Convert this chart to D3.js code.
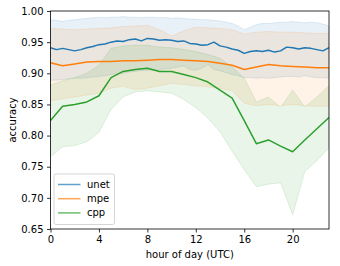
<!DOCTYPE html>
<html>
<head>
<meta charset="utf-8">
<script src="https://cdn.jsdelivr.net/npm/d3@7"></script>
<style>
  body { margin: 0; background: #fff; }
  svg { display: block; font-family: "DejaVu Sans", sans-serif; }
</style>
</head>
<body>
<svg id="chart" width="340" height="266"></svg>
<script>
// hourly models
var hours = [0,1,2,3,4,5,6,7,8,9,10,11,12,13,14,15,16,17,18,19,20,21,22,23];
// unet is sampled every half hour
var unetHours = [0,0.5,1,1.5,2,2.5,3,3.5,4,4.5,5,5.5,6,6.5,7,7.5,8,8.5,9,9.5,10,10.5,11,11.5,
                 12,12.5,13,13.5,14,14.5,15,15.5,16,16.5,17,17.5,18,18.5,19,19.5,20,20.5,21,21.5,22,22.5,23];

var unetMean = [0.941,0.938,0.940,0.938,0.936,0.938,0.941,0.943,0.946,0.947,0.950,0.952,0.951,0.954,0.955,0.952,
                0.956,0.955,0.953,0.954,0.953,0.951,0.952,0.948,0.947,0.945,0.946,0.950,0.944,0.942,0.939,0.937,
                0.932,0.935,0.936,0.935,0.937,0.934,0.936,0.942,0.941,0.939,0.941,0.940,0.938,0.936,0.941];
var unetHi = [0.986,0.985,0.983,0.985,0.986,0.987,0.988,0.989,0.990,0.989,0.990,0.990,0.991,0.990,0.990,0.989,
              0.990,0.990,0.989,0.990,0.988,0.989,0.988,0.987,0.987,0.986,0.986,0.985,0.984,0.982,0.980,0.976,
              0.970,0.974,0.978,0.980,0.980,0.981,0.982,0.982,0.983,0.982,0.981,0.982,0.981,0.979,0.976];
var unetLo = [0.889,0.889,0.890,0.891,0.892,0.892,0.893,0.894,0.895,0.896,0.898,0.899,0.900,0.902,0.903,0.904,
              0.905,0.905,0.906,0.907,0.908,0.910,0.912,0.906,0.905,0.908,0.914,0.906,0.904,0.901,0.898,0.896,
              0.893,0.893,0.892,0.893,0.892,0.893,0.894,0.895,0.895,0.894,0.896,0.894,0.893,0.893,0.892];

var mpeMean = [0.917,0.912,0.915,0.918,0.919,0.919,0.920,0.920,0.921,0.922,0.922,0.921,
               0.920,0.919,0.916,0.913,0.906,0.910,0.914,0.912,0.911,0.910,0.909,0.909];
var mpeHi = [0.972,0.971,0.970,0.971,0.972,0.973,0.975,0.976,0.977,0.970,0.960,0.968,
             0.974,0.973,0.972,0.970,0.963,0.966,0.967,0.966,0.966,0.965,0.964,0.964];
var mpeLo = [0.856,0.859,0.862,0.865,0.868,0.876,0.879,0.874,0.876,0.880,0.884,0.882,
             0.880,0.878,0.876,0.872,0.852,0.848,0.850,0.848,0.850,0.848,0.847,0.847];

var cppMean = [0.824,0.847,0.850,0.854,0.864,0.893,0.903,0.906,0.908,0.903,0.903,0.898,
               0.893,0.886,0.873,0.860,0.824,0.787,0.793,0.783,0.774,0.793,0.811,0.829];
var cppHi = [0.881,0.888,0.893,0.900,0.913,0.940,0.944,0.945,0.945,0.942,0.941,0.938,
             0.935,0.930,0.924,0.910,0.892,0.854,0.862,0.845,0.873,0.846,0.862,0.880];
var cppLo = [0.766,0.782,0.784,0.790,0.805,0.842,0.862,0.870,0.872,0.870,0.868,0.858,
             0.845,0.828,0.806,0.775,0.745,0.718,0.722,0.724,0.673,0.742,0.760,0.780];

var xTicks = [0,4,8,12,16,20];
var yTicks = [0.65,0.70,0.75,0.80,0.85,0.90,0.95,1.00];

var series = [
  {name: "unet", color: "#1f77b4", x: unetHours, mean: unetMean, hi: unetHi, lo: unetLo},
  {name: "mpe",  color: "#ff7f0e", x: hours, mean: mpeMean, hi: mpeHi, lo: mpeLo},
  {name: "cpp",  color: "#2ca02c", x: hours, mean: cppMean, hi: cppHi, lo: cppLo}
];

var svg = d3.select("#chart"),
    margin = {top: 11, right: 11, bottom: 37, left: 50.5},
    width = 340 - margin.left - margin.right,
    height = 266 - margin.top - margin.bottom,
    g = svg.append("g").attr("transform", "translate(" + margin.left + "," + margin.top + ")");

var x = d3.scaleLinear().domain([0, 23]).range([0, width]),
    y = d3.scaleLinear().domain([0.65, 1.00]).range([height, 0]);

g.append("clipPath").attr("id", "clip")
  .append("rect").attr("width", width).attr("height", height);

var plot = g.append("g").attr("clip-path", "url(#clip)");

// shaded spread for every model
series.forEach(function(s) {
  var pts = s.x.map(function(h, i) { return {h: h, lo: s.lo[i], hi: s.hi[i]}; });
  var area = d3.area()
      .x(function(d) { return x(d.h); })
      .y0(function(d) { return y(d.lo); })
      .y1(function(d) { return y(d.hi); });
  plot.append("path")
      .attr("d", area(pts))
      .attr("fill", s.color)
      .attr("fill-opacity", 0.1)
      .attr("stroke", s.color)
      .attr("stroke-opacity", 0.12)
      .attr("stroke-width", 1);
});

series.forEach(function(s) {
  var line = d3.line()
      .x(function(d, i) { return x(s.x[i]); })
      .y(function(d) { return y(d); });
  plot.append("path")
      .attr("d", line(s.mean))
      .attr("fill", "none")
      .attr("stroke", s.color)
      .attr("stroke-width", 1.5)
      .attr("stroke-linejoin", "round");
});

// axes
var xAxis = g.append("g")
    .attr("transform", "translate(0," + height + ")")
    .call(d3.axisBottom(x).tickValues(xTicks).tickSize(3.5).tickPadding(3.5).tickFormat(d3.format("d")));
var yAxis = g.append("g")
    .call(d3.axisLeft(y).tickValues(yTicks).tickSize(3.5).tickPadding(3.5).tickFormat(d3.format(".2f")));

[xAxis, yAxis].forEach(function(a) {
  a.select(".domain").remove();
  a.selectAll(".tick line").attr("stroke", "#000").attr("stroke-width", 0.8);
  a.selectAll(".tick text").attr("fill", "#000").style("font-size", "10px").style("font-family", "DejaVu Sans");
});

g.append("rect")
    .attr("width", width).attr("height", height)
    .attr("fill", "none").attr("stroke", "#000").attr("stroke-width", 0.8);

g.append("text")
    .attr("x", width / 2).attr("y", height + 29)
    .attr("text-anchor", "middle")
    .style("font-size", "10px")
    .text("hour of day (UTC)");

svg.append("text")
    .attr("transform", "translate(16," + (margin.top + height / 2) + ") rotate(-90)")
    .attr("text-anchor", "middle")
    .style("font-size", "10px")
    .text("accuracy");

// legend
var legend = svg.append("g").attr("transform", "translate(54,174)");
legend.append("rect")
    .attr("width", 60.5).attr("height", 50.5)
    .attr("rx", 2)
    .attr("fill", "#fff").attr("fill-opacity", 0.8)
    .attr("stroke", "#ccc").attr("stroke-width", 0.8);

var item = legend.selectAll(".item")
    .data(series)
    .enter().append("g")
    .attr("class", "item")
    .attr("transform", function(d, i) { return "translate(0," + (10.5 + i * 14.2) + ")"; });

item.append("line")
    .attr("x1", 4).attr("x2", 26.5)
    .attr("stroke", function(d) { return d.color; })
    .attr("stroke-opacity", 0.7)
    .attr("stroke-width", 1.5);

item.append("text")
    .attr("x", 33)
    .attr("dy", "0.35em")
    .style("font-size", "10px")
    .text(function(d) { return d.name; });
</script>
</body>
</html>
